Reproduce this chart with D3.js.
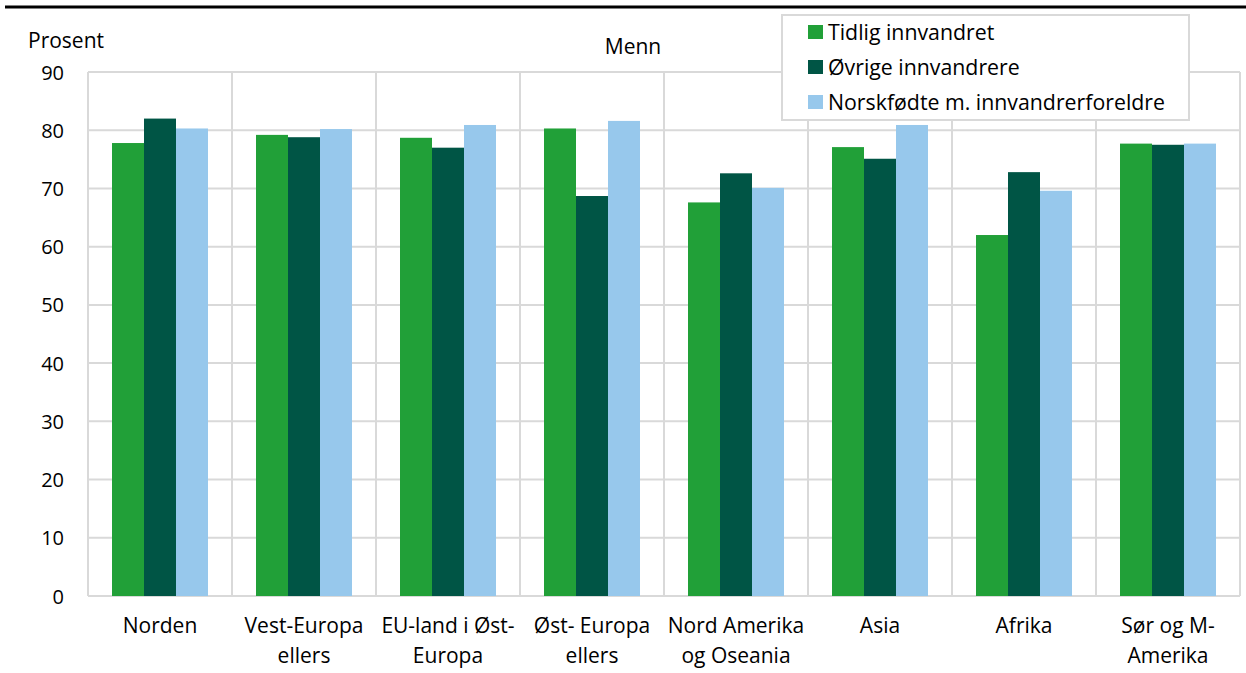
<!DOCTYPE html>
<html>
<head>
<meta charset="utf-8">
<script src="https://cdn.jsdelivr.net/npm/d3@7"></script>
<style>
  body { margin: 0; background: #fff; }
  svg { display: block; font-family: "Open Sans", sans-serif; }
</style>
</head>
<body>
<svg id="chart" width="1246" height="673"></svg>
<script>
// Employment share (prosent) for men by country background
const categories = [
  ["Norden"],
  ["Vest-Europa", "ellers"],
  ["EU-land i Øst-", "Europa"],
  ["Øst- Europa", "ellers"],
  ["Nord Amerika", "og Oseania"],
  ["Asia"],
  ["Afrika"],
  ["Sør og M-", "Amerika"]
];
const seriesNames = ["Tidlig innvandret", "Øvrige innvandrere", "Norskfødte m. innvandrerforeldre"];
const tidlig    = [77.8, 79.2, 78.7, 80.3, 67.6, 77.1, 62.0, 77.7];
const ovrige    = [82.0, 78.8, 77.0, 68.7, 72.6, 75.1, 72.8, 77.5];
const norskfodt = [80.3, 80.2, 80.9, 81.6, 70.1, 80.9, 69.6, 77.7];
const yTicks = [0, 10, 20, 30, 40, 50, 60, 70, 80, 90];
const colors = ["#21a038", "#005545", "#97c8ec"];

const values = [tidlig, ovrige, norskfodt];
const keys = categories.map(c => c.join(" "));

const svg = d3.select("#chart");
const plot = { left: 88, right: 1240, top: 72, bottom: 596 };

const x = d3.scaleBand().domain(keys).range([plot.left, plot.right]).paddingInner(0).paddingOuter(0);
const bw = x.bandwidth();
const xs = d3.scaleBand().domain(seriesNames).range([bw / 6, bw * 5 / 6]);
const y = d3.scaleLinear().domain([0, 90]).range([plot.bottom, plot.top]);

// top rule
svg.append("line")
  .attr("x1", 5).attr("x2", 1246).attr("y1", 7).attr("y2", 7)
  .attr("stroke", "#000").attr("stroke-width", 3);

// horizontal grid
svg.append("g").selectAll("line").data(yTicks).join("line")
  .attr("x1", plot.left).attr("x2", plot.right)
  .attr("y1", d => y(d)).attr("y2", d => y(d))
  .attr("stroke", "#d9d9d9").attr("stroke-width", 2);

// category separators
const bounds = keys.map(k => x(k)).concat([plot.right]);
svg.append("g").selectAll("line").data(bounds).join("line")
  .attr("x1", d => d).attr("x2", d => d)
  .attr("y1", plot.top).attr("y2", plot.bottom)
  .attr("stroke", "#d9d9d9").attr("stroke-width", 2);

// bars
values.forEach((vals, si) => {
  svg.append("g").selectAll("rect").data(vals).join("rect")
    .attr("x", (d, i) => x(keys[i]) + xs(seriesNames[si]))
    .attr("width", xs.bandwidth())
    .attr("y", d => y(d))
    .attr("height", d => y(0) - y(d))
    .attr("fill", colors[si]);
});

// y axis labels
const yAxis = d3.axisLeft(y).tickValues(yTicks).tickSize(0).tickPadding(0);
const yg = svg.append("g").attr("transform", `translate(64,0)`).call(yAxis);
yg.select(".domain").remove();
yg.selectAll("text").attr("font-size", 20).attr("fill", "#000")
  .attr("font-family", "Open Sans, sans-serif").attr("dy", "0.35em");

// category labels
const xl = svg.append("g");
categories.forEach((lines, i) => {
  const t = xl.append("text")
    .attr("x", x(keys[i]) + bw / 2)
    .attr("y", 633)
    .attr("text-anchor", "middle")
    .attr("font-size", 21)
    .attr("fill", "#000");
  lines.forEach((ln, j) => {
    t.append("tspan").attr("x", x(keys[i]) + bw / 2).attr("dy", j === 0 ? 0 : 30).text(ln);
  });
});

// axis title and panel title
svg.append("text").attr("x", 28).attr("y", 48).attr("font-size", 21).attr("fill", "#000").text("Prosent");
svg.append("text").attr("x", 633).attr("y", 54).attr("text-anchor", "middle").attr("font-size", 21).attr("fill", "#000").text("Menn");

// legend
const lg = svg.append("g");
lg.append("rect").attr("x", 782).attr("y", 15).attr("width", 407).attr("height", 105)
  .attr("fill", "#fff").attr("stroke", "#d9d9d9").attr("stroke-width", 2);
seriesNames.forEach((s, i) => {
  const cy = 32 + i * 35;
  lg.append("rect").attr("x", 808).attr("y", cy - 7).attr("width", 15).attr("height", 14).attr("fill", colors[i]);
  lg.append("text").attr("x", 828).attr("y", cy + 8)
    .attr("font-size", 21.3).attr("fill", "#000").text(s);
});
</script>
</body>
</html>
